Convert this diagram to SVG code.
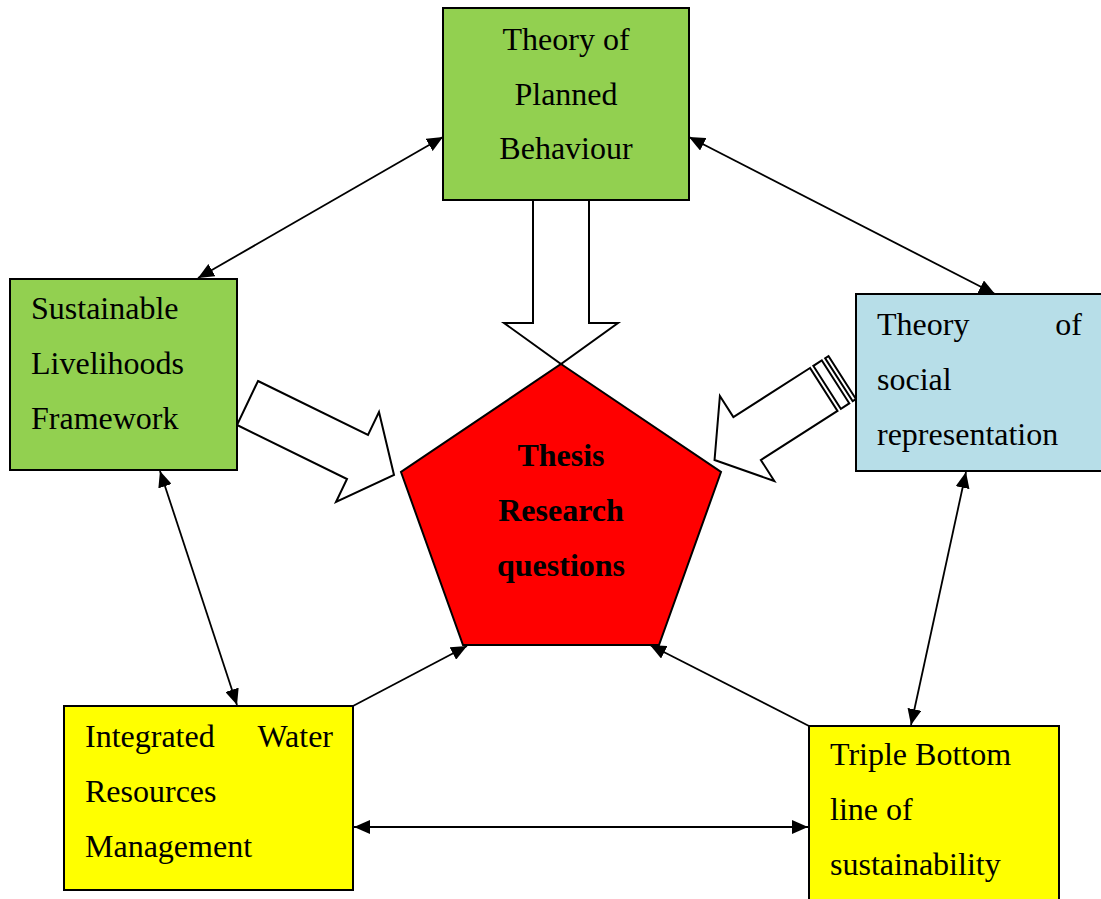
<svg xmlns="http://www.w3.org/2000/svg" width="1101" height="899" viewBox="0 0 1101 899">
<defs>
<marker id="ah" viewBox="0 0 16 14" refX="16" refY="7" markerWidth="16" markerHeight="14" markerUnits="userSpaceOnUse" orient="auto-start-reverse">
<path d="M0,0 L16,7 L0,14 z" fill="#000"/>
</marker>
<style>
.box{stroke:#000;stroke-width:2}
.t{font-family:"Liberation Serif","Times New Roman",serif;font-size:32px;fill:#000}
.b{font-weight:bold;text-anchor:middle}
.c{stroke:#000;stroke-width:1.8;fill:none}
.blk{fill:#fff;stroke:#000;stroke-width:2;stroke-linejoin:miter}
</style>
</defs>
<rect width="1101" height="899" fill="#fff"/>

<g id="connectors">
<line class="c" x1="443" y1="137" x2="198" y2="278" marker-start="url(#ah)" marker-end="url(#ah)"/>
<line class="c" x1="689" y1="137" x2="995" y2="294" marker-start="url(#ah)" marker-end="url(#ah)"/>
<line class="c" x1="160" y1="471" x2="237" y2="705" marker-start="url(#ah)" marker-end="url(#ah)"/>
<line class="c" x1="966" y1="472" x2="911" y2="725" marker-start="url(#ah)" marker-end="url(#ah)"/>
<line class="c" x1="354" y1="827" x2="808" y2="827" marker-start="url(#ah)" marker-end="url(#ah)"/>
<line class="c" x1="353" y1="706" x2="467" y2="646" marker-end="url(#ah)"/>
<line class="c" x1="809" y1="726" x2="650" y2="645" marker-end="url(#ah)"/>
</g>

<g id="block-arrows">
<polygon class="blk" points="533,200 589,200 589,323 618,323 561,364 504,323 533,323"/>
<polygon class="blk" points="258,381 368,435 379,412 394,475 336,502 347,479 237,425"/>
<g transform="matrix(0.842 -0.539 0.539 0.842 810 368)">
<polygon class="blk" points="0,0 -91,0 -91,-25 -130,26 -91,76 -91,51 0,51"/>
<rect class="blk" x="4" y="0" width="10" height="51"/>
<rect class="blk" x="18" y="0" width="4" height="51"/>
</g>
</g>

<g id="thesis">
<polygon points="561,364 721,472 659,645 463,645 401,472" fill="#f00" stroke="#000" stroke-width="2"/>
<text class="t b" x="561" y="466">Thesis</text>
<text class="t b" x="561" y="521">Research</text>
<text class="t b" x="561" y="576">questions</text>
</g>

<g id="tpb">
<rect class="box" x="443" y="8" width="246" height="192" fill="#92D050"/>
<text class="t" x="566" y="50" text-anchor="middle">Theory of</text>
<text class="t" x="566" y="105" text-anchor="middle">Planned</text>
<text class="t" x="566" y="159" text-anchor="middle">Behaviour</text>
</g>

<g id="slf">
<rect class="box" x="10" y="279" width="227" height="191" fill="#92D050"/>
<text class="t" x="31" y="319">Sustainable</text>
<text class="t" x="31" y="374">Livelihoods</text>
<text class="t" x="31" y="429">Framework</text>
</g>

<g id="tsr">
<rect class="box" x="856" y="294" width="250" height="177" fill="#B7DEE8"/>
<text class="t" x="877" y="335">Theory</text>
<text class="t" x="1082" y="335" text-anchor="end">of</text>
<text class="t" x="877" y="390">social</text>
<text class="t" x="877" y="445">representation</text>
</g>

<g id="iwrm">
<rect class="box" x="64" y="706" width="289" height="184" fill="#FFFF00"/>
<text class="t" x="85" y="747">Integrated</text>
<text class="t" x="333" y="747" text-anchor="end">Water</text>
<text class="t" x="85" y="802">Resources</text>
<text class="t" x="85" y="857">Management</text>
</g>

<g id="tbl">
<rect class="box" x="809" y="726" width="250" height="180" fill="#FFFF00"/>
<text class="t" x="830" y="765">Triple Bottom</text>
<text class="t" x="830" y="820">line of</text>
<text class="t" x="830" y="875">sustainability</text>
</g>
</svg>
